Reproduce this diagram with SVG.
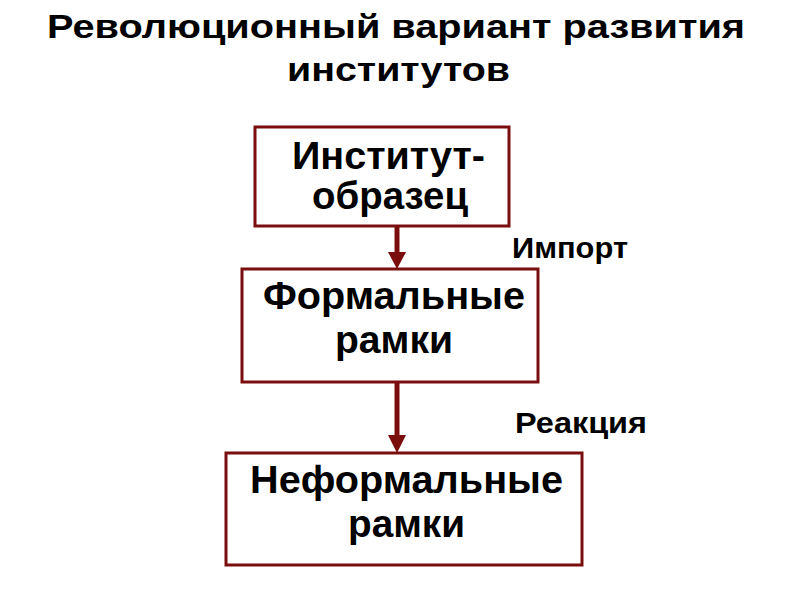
<svg xmlns="http://www.w3.org/2000/svg" width="794" height="595" viewBox="0 0 794 595">
<defs>
<style>
text{font-family:"Liberation Sans",Arial,sans-serif;font-weight:bold;fill:#000}
.title{font-size:34px}
.node{font-size:38px}
.lbl{font-size:29px}
.box{fill:#fff;stroke:#7a0e0e;stroke-width:3}
.conn{stroke:#7a0e0e;stroke-width:5;fill:none}
.head{fill:#7a0e0e}
</style>
</defs>
<rect width="794" height="595" fill="#fff"/>
<g id="title">
<text class="title" x="47" y="38" textLength="698" lengthAdjust="spacingAndGlyphs">Революционный вариант развития</text>
<text class="title" x="287" y="81" textLength="223" lengthAdjust="spacingAndGlyphs">институтов</text>
</g>
<g id="connectors">
<line class="conn" x1="397" y1="227" x2="397" y2="254"/>
<polygon class="head" points="388,252 406,252 397,269"/>
<line class="conn" x1="397" y1="383" x2="397" y2="437"/>
<polygon class="head" points="388,435 406,435 397,453"/>
<text class="lbl" x="512" y="258" textLength="116" lengthAdjust="spacingAndGlyphs">Импорт</text>
<text class="lbl" x="515" y="433" textLength="132" lengthAdjust="spacingAndGlyphs">Реакция</text>
</g>
<g id="node-institut">
<rect class="box" x="255" y="127" width="254" height="99"/>
<text class="node" x="292" y="169" textLength="193" lengthAdjust="spacingAndGlyphs">Институт-</text>
<text class="node" x="312" y="209" textLength="156" lengthAdjust="spacingAndGlyphs">образец</text>
</g>
<g id="node-formal">
<rect class="box" x="242" y="269" width="296" height="113"/>
<text class="node" x="263" y="309" textLength="262" lengthAdjust="spacingAndGlyphs">Формальные</text>
<text class="node" x="335" y="353" textLength="118" lengthAdjust="spacingAndGlyphs">рамки</text>
</g>
<g id="node-informal">
<rect class="box" x="226" y="453" width="356" height="112"/>
<text class="node" x="250" y="493" textLength="313" lengthAdjust="spacingAndGlyphs">Неформальные</text>
<text class="node" x="348" y="537" textLength="117" lengthAdjust="spacingAndGlyphs">рамки</text>
</g>
</svg>
